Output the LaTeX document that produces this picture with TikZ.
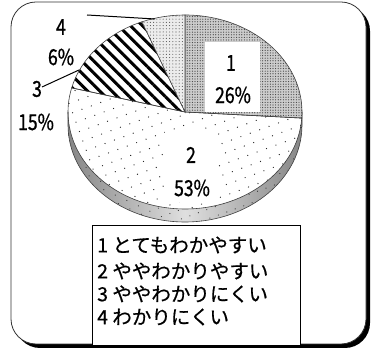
\documentclass[tikz,border=0pt]{standalone}
\usepackage{fontspec}
\usetikzlibrary{patterns.meta}
\newfontfamily\jp[FakeBold=0.6]{Noto Sans CJK JP}
\newfontfamily\jpn[FakeStretch=0.8,FakeBold=0.8]{Noto Sans CJK JP}
\begin{document}
\begin{tikzpicture}[x=1pt,y=1pt,
  lbl/.style={font=\jpn\fontsize{22}{22}\selectfont, inner sep=0pt},
  leg/.style={font=\jp\fontsize{19.5}{19.5}\selectfont, anchor=west, inner sep=0pt},
  edge/.style={draw=black!75, line width=0.6pt},
  leader/.style={draw=black, line width=1pt},
  whitebox/.style={fill=white, inner sep=0pt}]
\useasboundingbox (0,0) rectangle (374,352);
\def\cx{185}\def\cy{240}\def\rx{117}\def\ry{97}\def\dep{13}
% frame
\fill[black, rounded corners=25pt] (15,4) rectangle (370,346);
\filldraw[fill=white, draw=black!80, line width=0.8pt, rounded corners=25pt] (11,8) rectangle (366,350);
% side
\path[left color=gray!95, right color=gray!95, middle color=gray!25]
  (\cx+\rx,\cy) arc[start angle=0,end angle=-180,x radius=\rx,y radius=\ry]
  -- ++(0,-\dep) arc[start angle=180,end angle=360,x radius=\rx,y radius=\ry] -- cycle;
\path[pattern={Dots[distance=9pt, radius=0.6pt, angle=20]}, pattern color=black!80]
  (\cx+\rx,\cy) arc[start angle=0,end angle=-180,x radius=\rx,y radius=\ry]
  -- ++(0,-\dep) arc[start angle=180,end angle=360,x radius=\rx,y radius=\ry] -- cycle;
\draw[edge]
  (\cx+\rx,\cy) -- ++(0,-\dep) arc[start angle=0,end angle=-180,x radius=\rx,y radius=\ry] -- ++(0,\dep);
% slice 1
\path[fill=gray!40] (\cx,\cy) -- (\cx,\cy+\ry) arc[start angle=90,end angle=-3.6,x radius=\rx,y radius=\ry] -- cycle;
\draw[edge, pattern={Dots[distance=2.6pt, radius=0.6pt]}, pattern color=black!75]
  (\cx,\cy) -- (\cx,\cy+\ry) arc[start angle=90,end angle=-3.6,x radius=\rx,y radius=\ry] -- cycle;
% slice 2
\draw[edge, pattern={Dots[distance=10pt, radius=0.65pt, angle=20]}, pattern color=black!85]
  (\cx,\cy) -- ({\cx+\rx*cos(-3.6)},{\cy+\ry*sin(-3.6)}) arc[start angle=-3.6,end angle=-194.4,x radius=\rx,y radius=\ry] -- cycle;
% slice 3
\draw[edge, pattern={Lines[angle=-45, distance=8.5pt, line width=3pt]}, pattern color=black]
  (\cx,\cy) -- ({\cx+\rx*cos(165.6)},{\cy+\ry*sin(165.6)}) arc[start angle=165.6,end angle=111.6,x radius=\rx,y radius=\ry] -- cycle;
% slice 4
\path[fill=gray!15] (\cx,\cy) -- ({\cx+\rx*cos(111.6)},{\cy+\ry*sin(111.6)}) arc[start angle=111.6,end angle=90,x radius=\rx,y radius=\ry] -- cycle;
\draw[edge, pattern={Dots[distance=3.2pt, radius=0.55pt]}, pattern color=black!65]
  (\cx,\cy) -- ({\cx+\rx*cos(111.6)},{\cy+\ry*sin(111.6)}) arc[start angle=111.6,end angle=90,x radius=\rx,y radius=\ry] -- cycle;
% label boxes
\node[whitebox, minimum width=55pt, minimum height=70pt] (b1) at (232.5,275) {};
\node[whitebox, minimum width=53pt, minimum height=72pt] (b2) at (191.5,186) {};
% labels
\node[lbl] (l1) at (231,289) {1};
\node[lbl] (p1) at (233,257) {26\%};
\node[lbl] (l2) at (191,197) {2};
\node[lbl] (p2) at (192,164) {53\%};
\node[lbl] (l4) at (61,325) {4};
\node[lbl] (p4) at (61,295) {6\%};
\node[lbl] (l3) at (37,263) {3};
\node[lbl] (p3) at (36,230) {15\%};
% leaders
\coordinate (e4a) at (87,337);
\coordinate (e4b) at (155,333);
\coordinate (e3a) at (42,265);
\coordinate (e3b) at (79,282);
\draw[leader] (e4a) -- (e4b);
\draw[leader] (e3a) -- (e3b);
% legend
\draw[line width=1pt, fill=white] (92,6) rectangle (300,126);
\node[leg] (t1) at (97,107) {1 とてもわかやすい};
\node[leg] (t2) at (97,81) {2 ややわかりやすい};
\node[leg] (t3) at (97,58) {3 ややわかりにくい};
\node[leg] (t4) at (97,35) {4 わかりにくい};
\end{tikzpicture}
\end{document}
